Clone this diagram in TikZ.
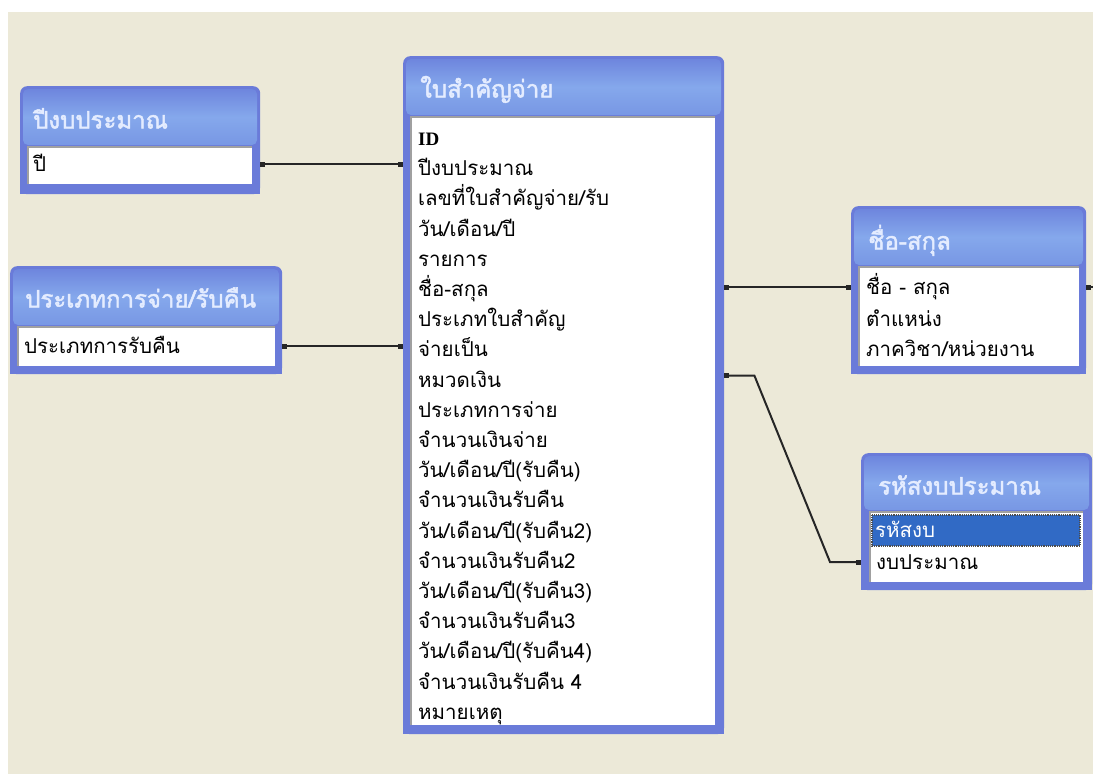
\documentclass[tikz,border=0pt]{standalone}
\usepackage{fontspec}
\usetikzlibrary{arrows.meta}
\newfontfamily\thaifont[Script=Thai]{Loma}
\newfontfamily\thaibold[Script=Thai,FakeBold=2]{Loma}
\newfontfamily\idfont{Liberation Serif}
\definecolor{desk}{HTML}{ECE9D8}
\definecolor{frameblue}{HTML}{6A7BD9}
\definecolor{bandtop}{HTML}{6E86DE}
\definecolor{bandmid}{HTML}{85A8EC}
\definecolor{bandbot}{HTML}{7897E4}
\definecolor{titletext}{HTML}{E4ECFF}
\definecolor{selblue}{HTML}{316AC5}
\definecolor{sunkgray}{HTML}{A0A0A0}

\begin{document}
\begin{tikzpicture}[x=1pt, y=-1pt,
    frame/.style={rectangle, inner sep=0pt, anchor=north west, fill=frameblue, rounded corners=7pt},
    band/.style={top color=bandtop, bottom color=bandbot, middle color=bandmid, rounded corners=5pt},
    field/.style={rectangle, inner sep=0pt, anchor=north west, fill=white},
    sunk/.style={draw=sunkgray, line width=1.5pt},
    ttl/.style={anchor=west, inner sep=0pt, text height=22pt, text depth=7pt, text=titletext, font=\thaibold\fontsize{24}{24}\selectfont},
    row/.style={anchor=west, inner sep=0pt, text height=21pt, text depth=6pt, font=\thaifont\fontsize{20.5}{20.5}\selectfont},
    link/.style={line width=2pt, black!85, >={Square[length=5pt,width=5pt]}, <->}]
    % desk
    \useasboundingbox (0,0) rectangle (1093,774);
    \fill[white] (0,0) rectangle (1093,774);
    \fill[desk] (8,12) rectangle (1093,774);

    % ปีงบประมาณ
    \node[frame, minimum width=240pt, minimum height=108pt] (yr) at (20,86) {};
    \fill[frameblue] (yr.south west) rectangle ([yshift=10pt]yr.south east);
    \shade[band] (23,89) rectangle (257,145);
    \node[ttl] (yrt) at (33,121) {ปีงบประมาณ};
    \node[field, minimum width=224pt, minimum height=37pt] (yrf) at (28,147) {};
    \draw[sunk] (yrf.south west) -- (yrf.north west) -- (yrf.north east);
    \node[row] (yr1) at (33,164) {ปี};

    % ประเภทการจ่าย/รับคืน
    \node[frame, minimum width=272pt, minimum height=108pt] (typ) at (10,266) {};
    \fill[frameblue] (typ.south west) rectangle ([yshift=10pt]typ.south east);
    \shade[band] (13,269) rectangle (279,325);
    \node[ttl] (typt) at (25,300) {ประเภทการจ่าย/รับคืน};
    \node[field, minimum width=257pt, minimum height=39pt] (typf) at (18,327) {};
    \draw[sunk] (typf.south west) -- (typf.north west) -- (typf.north east);
    \node[row] (typ1) at (24,346) {ประเภทการรับคืน};

    % ใบสำคัญจ่าย
    \node[frame, minimum width=321pt, minimum height=678pt] (main) at (403,56) {};
    \fill[frameblue] (main.south west) rectangle ([yshift=10pt]main.south east);
    \shade[band] (406,59) rectangle (721,115);
    \node[ttl] (maint) at (420,90) {ใบสำคัญจ่าย};
    \node[field, minimum width=304pt, minimum height=608pt] (mainf) at (411,117) {};
    \draw[sunk] (mainf.south west) -- (mainf.north west) -- (mainf.north east);
    \node[row, font=\idfont\bfseries\fontsize{19}{19}\selectfont] (m0) at (418,138) {ID};
    \node[row] (m1) at (418,168.2) {ปีงบประมาณ};
    \node[row] (m2) at (418,198.4) {เลขที่ใบสำคัญจ่าย/รับ};
    \node[row] (m3) at (418,228.6) {วัน/เดือน/ปี};
    \node[row] (m4) at (418,258.8) {รายการ};
    \node[row] (m5) at (418,289) {ชื่อ-สกุล};
    \node[row] (m6) at (418,319.2) {ประเภทใบสำคัญ};
    \node[row] (m7) at (418,349.4) {จ่ายเป็น};
    \node[row] (m8) at (418,379.6) {หมวดเงิน};
    \node[row] (m9) at (418,409.8) {ประเภทการจ่าย};
    \node[row] (m10) at (418,440) {จำนวนเงินจ่าย};
    \node[row] (m11) at (418,470.2) {วัน/เดือน/ปี(รับคืน)};
    \node[row] (m12) at (418,500.4) {จำนวนเงินรับคืน};
    \node[row] (m13) at (418,530.6) {วัน/เดือน/ปี(รับคืน2)};
    \node[row] (m14) at (418,560.8) {จำนวนเงินรับคืน2};
    \node[row] (m15) at (418,591) {วัน/เดือน/ปี(รับคืน3)};
    \node[row] (m16) at (418,621.2) {จำนวนเงินรับคืน3};
    \node[row] (m17) at (418,651.4) {วัน/เดือน/ปี(รับคืน4)};
    \node[row] (m18) at (418,681.6) {จำนวนเงินรับคืน 4};
    \node[row] (m19) at (418,711.8) {หมายเหตุ};

    % ชื่อ-สกุล
    \node[frame, minimum width=235pt, minimum height=168pt] (nm) at (851,206) {};
    \fill[frameblue] (nm.south west) rectangle ([yshift=10pt]nm.south east);
    \shade[band] (854,209) rectangle (1083,265);
    \node[ttl] (nmt) at (868,242) {ชื่อ-สกุล};
    \node[field, minimum width=220pt, minimum height=99pt] (nmf) at (859,267) {};
    \draw[sunk] (nmf.south west) -- (nmf.north west) -- (nmf.north east);
    \node[row] (nm1) at (866,287) {ชื่อ - สกุล};
    \node[row] (nm2) at (866,319) {ตำแหน่ง};
    \node[row] (nm3) at (866,349) {ภาควิชา/หน่วยงาน};

    % รหัสงบประมาณ
    \node[frame, minimum width=231pt, minimum height=137pt] (cd) at (861,453) {};
    \fill[frameblue] (cd.south west) rectangle ([yshift=10pt]cd.south east);
    \shade[band] (864,456) rectangle (1089,510);
    \node[ttl] (cdt) at (878,487) {รหัสงบประมาณ};
    \node[field, minimum width=213pt, minimum height=70pt] (cdf) at (870,512) {};
    \draw[sunk] (cdf.south west) -- (cdf.north west) -- (cdf.north east);
    \fill[selblue] (872,515) rectangle (1080,546);
    \draw[black!70, densely dotted, line width=1.2pt] (872,515) rectangle (1080,546);
    \node[row, text=white] (cd1) at (875,530) {รหัสงบ};
    \node[row] (cd2) at (876,562) {งบประมาณ};

    % relationships
    \draw[link] (yr.east |- yr1) -- (main.west |- yr1);
    \draw[link] (typ.east |- typ1) -- (main.west |- typ1);
    \draw[link] (main.east |- nm1) -- (nm.west |- nm1);
    \draw[link] ([yshift=4pt]main.east |- m8) -- ++(30,0) -- ([xshift=-31pt]cd.west |- cd2) -- (cd.west |- cd2);
    \coordinate (offR) at (1093,287);
    \draw[link, <-] (nm.east |- nm1) -- (offR);
\end{tikzpicture}
\end{document}
